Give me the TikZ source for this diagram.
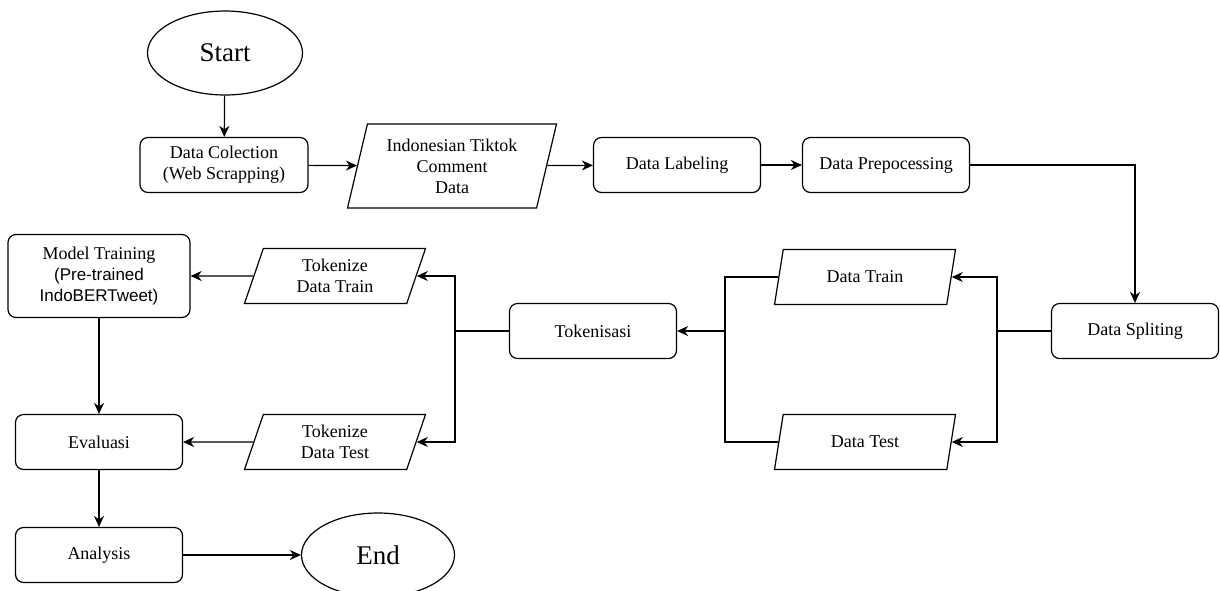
\documentclass[tikz,border=0pt]{standalone}
\usepackage{fontspec}
\setmainfont{Liberation Serif}
\setsansfont{Liberation Sans}
\usetikzlibrary{shapes.geometric,arrows.meta}
\begin{document}
\begin{tikzpicture}[x=1pt,y=-1pt,line width=1.2pt]
\tikzset{
	every node/.style={font=\fontsize{18}{21}\selectfont, align=center},
	terminal/.style={draw, ellipse, minimum width=155pt, minimum height=84pt, font=\fontsize{27}{32}\selectfont},
	process/.style={draw, rounded corners=8pt, minimum width=167pt, minimum height=55pt},
	iodata/.style={draw, trapezium, trapezium left angle=65, trapezium right angle=115, trapezium stretches body, minimum width=181pt, minimum height=55pt},
	flow/.style={draw, -{Stealth[length=11pt,width=10pt,inset=3.5pt]}}
}
\useasboundingbox (0,0) rectangle (1220,590);

\node[terminal] (start) at (225,53) {Start};
\node[process, minimum width=168pt] (collect) at (224,165) {Data Colection\\(Web Scrapping)};
\node[iodata, minimum width=209pt, minimum height=84pt, trapezium left angle=72, trapezium right angle=108] (tiktok) at (452,166) {Indonesian Tiktok\\Comment\\Data};
\node[process] (label) at (677,165) {Data Labeling};
\node[process] (prepro) at (886,165) {Data Prepocessing};
\node[process] (split) at (1135,331) {Data Spliting};
\node[iodata] (train) at (865,277) {Data Train};
\node[iodata] (test) at (865,442) {Data Test};
\node[process] (token) at (593,331) {Tokenisasi};
\node[iodata] (toktrain) at (335,276) {Tokenize\\Data Train};
\node[iodata] (toktest) at (335,442) {Tokenize\\Data Test};
\node[process, minimum width=182pt, minimum height=83pt] (model) at (99,276) {Model Training\\\fontsize{17}{21}\sffamily(Pre-trained\\\fontsize{17}{21}\sffamily IndoBERTweet)};
\node[process] (eval) at (99,442) {Evaluasi};
\node[process] (analysis) at (99,555) {Analysis};
\node[terminal, minimum width=153pt] (end) at (378,555) {End};

\coordinate (sj) at (997,331);
\coordinate (tj) at (725,331);
\coordinate (kj) at (455,331);

\draw[flow] (start) -- (collect);
\draw[flow] (collect) -- (tiktok);
\draw[flow] (tiktok) -- (label);
\draw[flow] (label) -- (prepro);
\draw[flow] (prepro.east) -| (split.north);
\draw (split.west) -- (sj);
\draw[flow] (sj) |- (train.east);
\draw[flow] (sj) |- (test.east);
\draw (train.west) -| (tj) |- (test.west);
\draw[flow] (tj) -- (token.east);
\draw (token.west) -- (kj);
\draw[flow] (kj) |- (toktrain.east);
\draw[flow] (kj) |- (toktest.east);
\draw[flow] (toktrain.west) -- (model.east);
\draw[flow] (toktest.west) -- (eval.east);
\draw[flow] (model) -- (eval);
\draw[flow] (eval) -- (analysis);
\draw[flow] (analysis) -- (end);
\end{tikzpicture}
\end{document}
